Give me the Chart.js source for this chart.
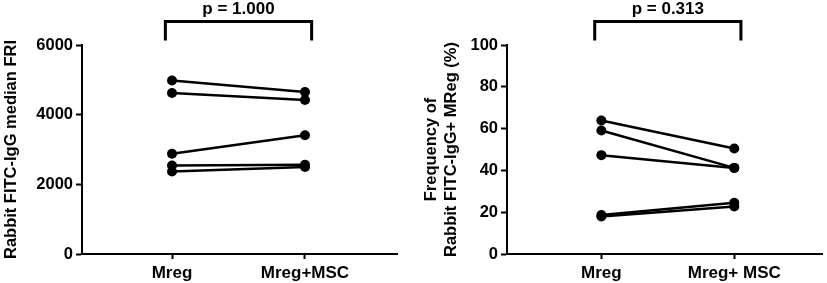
<!DOCTYPE html>
<html><head><meta charset="utf-8">
<script src="https://cdn.jsdelivr.net/npm/chart.js@4/dist/chart.umd.min.js"></script>
<style>
html,body{margin:0;padding:0;background:#fff;}
#wrap{position:relative;width:827px;height:283px;}
#c1{position:absolute;left:0;top:0;}
#c2{position:absolute;left:413px;top:0;}
</style></head><body>
<div id="wrap"><canvas id="c1" width="413" height="283"></canvas><canvas id="c2" width="414" height="283"></canvas></div>
<script>
const categories = ['Mreg', 'Mreg+MSC'];
const categoriesRight = ['Mreg', 'Mreg+ MSC'];
const mregFRI = [4980, 4620, 2880, 2540, 2370];
const mscFRI  = [4650, 4420, 3410, 2560, 2500];
const mregFreq = [63.9, 59.1, 47.3, 18.7, 18.0];
const mscFreq  = [50.5, 41.2, 41.2, 24.5, 22.7];
const pLeft = 'p = 1.000';
const pRight = 'p = 0.313';
const yticksLeft = [0, 2000, 4000, 6000];
const yticksRight = [0, 20, 40, 60, 80, 100];

const FONT = "'Liberation Sans', Arial, sans-serif";

function makeSets(a, b) {
  return a.map((v, i) => ({
    data: [{x: 0, y: v}, {x: 1, y: b[i]}],
    borderColor: '#000', backgroundColor: '#000',
    borderWidth: 2.5, pointRadius: 5, pointHoverRadius: 5,
    pointBorderWidth: 0, tension: 0
  }));
}

const bracketPlugin = {
  id: 'bracket',
  afterDraw(chart, args, opts) {
    const ctx = chart.ctx;
    const xs = chart.scales.x;
    const x1 = xs.getPixelForValue(-0.05), x2 = xs.getPixelForValue(1.05);
    ctx.save();
    ctx.strokeStyle = '#000';
    ctx.lineWidth = 3;
    ctx.lineJoin = 'miter';
    ctx.beginPath();
    ctx.moveTo(x1, 40.5); ctx.lineTo(x1, 21.5); ctx.lineTo(x2, 21.5); ctx.lineTo(x2, 40.5);
    ctx.stroke();
    ctx.fillStyle = '#000';
    ctx.font = 'bold 17px ' + FONT;
    ctx.textAlign = 'center'; ctx.textBaseline = 'middle';
    ctx.fillText(opts.text, (x1 + x2) / 2, 9);
    ctx.restore();
  }
};

function makeChart(id, a, b, cats, cfg) {
  return new Chart(document.getElementById(id), {
    type: 'line',
    data: { datasets: makeSets(a, b) },
    plugins: [bracketPlugin],
    options: {
      responsive: false, animation: false,
      layout: { padding: { left: cfg.padL, right: cfg.padR, top: 45, bottom: 0 } },
      plugins: { legend: { display: false }, tooltip: { enabled: false }, bracket: { text: cfg.p } },
      scales: {
        x: {
          type: 'linear', min: cfg.xmin, max: cfg.xmax,
          afterBuildTicks: s => { s.ticks = [{value: 0}, {value: 1}]; },
          afterFit: s => { s.height = 29; },
          ticks: { callback: v => cats[v], color: '#000', font: { family: FONT, size: 17, weight: 'bold' }, padding: 4, maxRotation: 0 },
          border: { display: true, color: '#000', width: 2 },
          grid: { display: true, drawOnChartArea: false, drawTicks: true, tickLength: 5, tickWidth: 2, color: '#000' }
        },
        y: {
          min: 0, max: cfg.ymax,
          afterBuildTicks: s => { s.ticks = cfg.yticks.map(v => ({value: v})); },
          afterFit: s => { s.width = cfg.yw; },
          ticks: { callback: v => String(v), color: '#000', font: { family: FONT, size: 16.5, weight: 'bold' }, padding: 3 },
          border: { display: true, color: '#000', width: 2 },
          grid: { display: true, drawOnChartArea: false, drawTicks: true, tickLength: 6, tickWidth: 2, color: '#000' },
          title: { display: true, text: cfg.title, color: '#000', font: { family: FONT, size: cfg.tsize, weight: 'bold', lineHeight: cfg.tlh }, padding: { top: 0, bottom: 0 } }
        }
      }
    }
  });
}

makeChart('c1', mregFRI, mscFRI, categories, {
  padL: 2, padR: 16, xmin: -0.677, xmax: 1.692, ymax: 6000, yticks: yticksLeft,
  yw: 80, title: 'Rabbit FITC-IgG median FRI', tsize: 16.5, tlh: 1.2, p: pLeft
});
makeChart('c2', mregFreq, mscFreq, categoriesRight, {
  padL: 8, padR: 4, xmin: -0.71, xmax: 1.66, ymax: 100, yticks: yticksRight,
  yw: 86, title: ['Frequency of', 'Rabbit FITC-IgG+ MReg (%)'], tsize: 16.5, tlh: 1.22, p: pRight
});
</script>
</body></html>
